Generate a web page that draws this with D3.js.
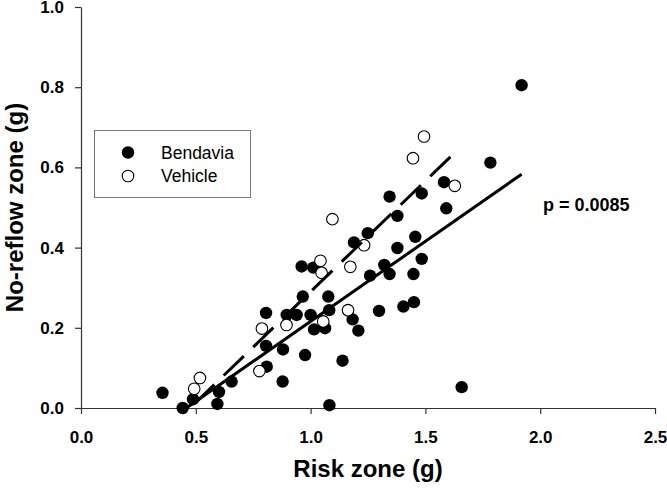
<!DOCTYPE html>
<html><head><meta charset="utf-8">
<script src="https://cdn.jsdelivr.net/npm/d3@7"></script>
<style>body{margin:0;background:#fff}svg{display:block}</style>
</head><body><svg id="c" width="667" height="489"></svg>
<script>
// ---- data ----
const bendaviaX = [0.355,0.443,0.488,0.594,0.601,0.656,0.806,0.806,0.809,0.880,0.878,0.896,0.939,0.966,0.961,1.012,0.976,1.000,1.015,1.063,1.077,1.081,1.082,1.139,1.183,1.208,1.189,1.249,1.259,1.298,1.321,1.344,1.344,1.378,1.378,1.404,1.450,1.448,1.456,1.484,1.484,1.581,1.591,1.658,1.783,1.919];
const bendaviaY = [0.038,0.000,0.022,0.010,0.040,0.066,0.237,0.155,0.103,0.146,0.066,0.232,0.232,0.278,0.353,0.350,0.132,0.232,0.196,0.199,0.278,0.244,0.007,0.118,0.221,0.193,0.413,0.436,0.330,0.242,0.357,0.527,0.334,0.479,0.399,0.253,0.264,0.334,0.427,0.535,0.372,0.563,0.498,0.052,0.612,0.805];
const vehicleX = [0.493,0.518,0.777,0.788,0.895,1.043,1.048,1.055,1.095,1.163,1.173,1.233,1.446,1.494,1.628];
const vehicleY = [0.048,0.075,0.092,0.198,0.207,0.367,0.337,0.216,0.471,0.244,0.352,0.406,0.623,0.677,0.554];
const fitBendaviaX = [0.459, 1.919];
const fitBendaviaY = [0.000, 0.583];
const fitVehicleX = [0.493, 1.628];
const fitVehicleY = [0.010, 0.637];
const xTickValues = [0, 0.5, 1.0, 1.5, 2.0, 2.5];
const yTickValues = [0, 0.2, 0.4, 0.6, 0.8, 1.0];
const seriesNames = ["Bendavia", "Vehicle"];
const xTitle = "Risk zone (g)";
const yTitle = "No-reflow zone (g)";
const pLabel = "p = 0.0085";

// ---- drawing ----
const FONT = "'Liberation Sans', Arial, Helvetica, sans-serif";
const svg = d3.select("#c");
const x = d3.scaleLinear().domain([0, 2.5]).range([81, 655]);
const y = d3.scaleLinear().domain([0, 1]).range([408, 7]);
const AX = "#333";

const gx = svg.append("g").attr("transform", `translate(0,${y(0)})`)
  .call(d3.axisBottom(x).tickValues(xTickValues).tickFormat(d3.format(".1f")).tickSize(6).tickSizeOuter(0).tickPadding(17));
const gy = svg.append("g").attr("transform", `translate(${x(0)},0)`)
  .call(d3.axisLeft(y).tickValues(yTickValues).tickFormat(d3.format(".1f")).tickSize(6).tickSizeOuter(0).tickPadding(11));
[gx, gy].forEach(g => {
  g.attr("font-family", FONT).attr("font-size", 17).attr("font-weight", "bold");
  g.selectAll("path,line").attr("stroke", AX).attr("stroke-width", 1.2);
  g.selectAll("text").attr("fill", "#000");
});

// points
svg.append("g").selectAll("circle").data(d3.zip(bendaviaX, bendaviaY)).join("circle")
  .attr("cx", d => x(d[0])).attr("cy", d => y(d[1])).attr("r", 6.2)
  .attr("fill", "#000");
svg.append("g").selectAll("circle").data(d3.zip(vehicleX, vehicleY)).join("circle")
  .attr("cx", d => x(d[0])).attr("cy", d => y(d[1])).attr("r", 5.8)
  .attr("fill", "#fff").attr("stroke", "#000").attr("stroke-width", 1.1);

// regression lines
const line = d3.line().x(d => x(d[0])).y(d => y(d[1]));
svg.append("path").datum(d3.zip(fitBendaviaX, fitBendaviaY)).attr("d", line)
  .attr("fill", "none").attr("stroke", "#000").attr("stroke-width", 3);
svg.append("path").datum(d3.zip(fitVehicleX, fitVehicleY)).attr("d", line)
  .attr("fill", "none").attr("stroke", "#000").attr("stroke-width", 3)
  .attr("stroke-dasharray", "28,13");

// axis titles
svg.append("text").attr("x", (x(0) + x(2.5)) / 2 - 0).attr("y", 477)
  .attr("text-anchor", "middle").attr("font-family", FONT).attr("font-size", 24)
  .attr("font-weight", "bold").text(xTitle);
svg.append("text").attr("transform", `translate(23,${(y(0) + y(1)) / 2}) rotate(-90)`)
  .attr("text-anchor", "middle").attr("font-family", FONT).attr("font-size", 24)
  .attr("font-weight", "bold").text(yTitle);

// p value
svg.append("text").attr("x", 543).attr("y", 211).attr("font-family", FONT)
  .attr("font-size", 18).attr("font-weight", "bold").text(pLabel);

// legend
const lg = svg.append("g");
lg.append("rect").attr("x", 94.5).attr("y", 130.5).attr("width", 156).attr("height", 67)
  .attr("fill", "#fff").attr("stroke", "#777").attr("stroke-width", 1);
const legendRows = [{name: seriesNames[0], filled: true}, {name: seriesNames[1], filled: false}];
legendRows.forEach((r, i) => {
  const cy = 152.5 + i * 23.5;
  lg.append("circle").attr("cx", 128).attr("cy", cy).attr("r", r.filled ? 6.2 : 5.8)
    .attr("fill", r.filled ? "#000" : "#fff").attr("stroke", "#000").attr("stroke-width", r.filled ? 0 : 1.1);
  lg.append("text").attr("x", 161).attr("y", cy + 6).attr("font-family", FONT)
    .attr("font-size", 17.5).text(r.name);
});
</script></body></html>
